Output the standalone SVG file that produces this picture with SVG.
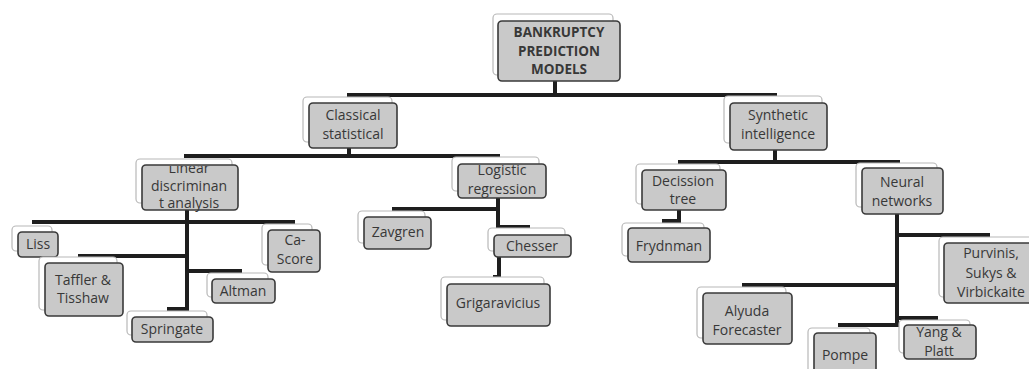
<svg xmlns="http://www.w3.org/2000/svg" width="1029" height="369" viewBox="0 0 1029 369">
<defs>
<style>
.bk{fill:#ffffff;stroke:#b8b8b8;stroke-width:1.2}
.fr{fill:#c9c9c9;stroke:#3a3a3a;stroke-width:1.6}
.t{font-family:"Open Sans","Liberation Sans",sans-serif;font-size:14px;fill:#383838;text-anchor:middle}
.tb{font-family:"Open Sans","Liberation Sans",sans-serif;font-size:13.5px;font-weight:bold;fill:#383838;text-anchor:middle}
.ln{stroke:#1e1e1e;stroke-width:4;fill:none;stroke-linecap:butt}
</style>
<clipPath id="clipLinear"><rect x="142" y="166" width="96" height="46"/></clipPath>
</defs>
<rect width="1029" height="369" fill="#ffffff"/>
<g id="connectors" class="ln">
<path d="M555,81V95M347,95H777"/>
<path d="M349,148V156M184,156H500"/>
<path d="M775,150V162M678,162H900"/>
<path d="M187,210V311M32,222H295M78,256H187M187,271H242M167,309H187"/>
<path d="M498,198V229M392,209H498M498,227H530"/>
<path d="M499,257V279M493,277H501"/>
<path d="M679,210V223M662,221H681"/>
<path d="M897,214V327M897,235H990M742,285H897M897,318H938M838,325H899"/>
</g>
<g id="root"><rect class="bk" x="493" y="14" width="120" height="61" rx="4"/><rect class="fr" x="498" y="21" width="122" height="60" rx="4"/><text class="tb" x="559" y="37">BANKRUPTCY</text><text class="tb" x="559" y="56">PREDICTION</text><text class="tb" x="559" y="74">MODELS</text></g>
<g id="classical"><rect class="bk" x="303" y="97" width="89" height="45" rx="4"/><rect class="fr" x="309" y="103" width="88" height="45" rx="4"/><text class="t" x="353" y="120">Classical</text><text class="t" x="353" y="139">statistical</text></g>
<g id="synthetic"><rect class="bk" x="724" y="96" width="98" height="47" rx="4"/><rect class="fr" x="730" y="103" width="97" height="47" rx="4"/><text class="t" x="778" y="120">Synthetic</text><text class="t" x="778" y="139">intelligence</text></g>
<g id="linear"><rect class="bk" x="136" y="159" width="96" height="44" rx="4"/><rect class="fr" x="142" y="165" width="96" height="45" rx="4"/><g clip-path="url(#clipLinear)"><text class="t" x="189" y="173">Linear</text><text class="t" x="189" y="191">discriminan</text><text class="t" x="189" y="208">t analysis</text></g></g>
<g id="logistic"><rect class="bk" x="452" y="157" width="87" height="34" rx="4"/><rect class="fr" x="458" y="164" width="88" height="34" rx="4"/><text class="t" x="502" y="175">Logistic</text><text class="t" x="502" y="194">regression</text></g>
<g id="liss"><rect class="bk" x="12" y="226" width="40" height="25" rx="4"/><rect class="fr" x="18" y="232" width="40" height="25" rx="4"/><text class="t" x="38" y="249">Liss</text></g>
<g id="cascore"><rect class="bk" x="262" y="224" width="50" height="41" rx="4"/><rect class="fr" x="268" y="230" width="52" height="42" rx="4"/><text class="t" x="295" y="245">Ca-</text><text class="t" x="295" y="264">Score</text></g>
<g id="taffler"><rect class="bk" x="39" y="257" width="78" height="53" rx="4"/><rect class="fr" x="45" y="263" width="78" height="53" rx="4"/><text class="t" x="83" y="285">Taffler &amp;</text><text class="t" x="83" y="303">Tisshaw</text></g>
<g id="altman"><rect class="bk" x="207" y="273" width="61" height="24" rx="4"/><rect class="fr" x="212" y="279" width="63" height="24" rx="4"/><text class="t" x="243" y="296">Altman</text></g>
<g id="springate"><rect class="bk" x="127" y="311" width="80" height="24" rx="4"/><rect class="fr" x="132" y="317" width="81" height="25" rx="4"/><text class="t" x="172" y="334">Springate</text></g>
<g id="zavgren"><rect class="bk" x="358" y="211" width="67" height="32" rx="4"/><rect class="fr" x="364" y="217" width="67" height="32" rx="4"/><text class="t" x="398" y="237">Zavgren</text></g>
<g id="chesser"><rect class="bk" x="488" y="228" width="77" height="23" rx="4"/><rect class="fr" x="494" y="235" width="77" height="22" rx="4"/><text class="t" x="532" y="251">Chesser</text></g>
<g id="grigaravicius"><rect class="bk" x="441" y="277" width="103" height="43" rx="4"/><rect class="fr" x="447" y="284" width="103" height="42" rx="4"/><text class="t" x="498" y="308">Grigaravicius</text></g>
<g id="decission"><rect class="bk" x="636" y="164" width="84" height="40" rx="4"/><rect class="fr" x="642" y="170" width="84" height="40" rx="4"/><text class="t" x="683" y="186">Decission</text><text class="t" x="683" y="204">tree</text></g>
<g id="frydnman"><rect class="bk" x="622" y="223" width="82" height="33" rx="4"/><rect class="fr" x="628" y="228" width="82" height="34" rx="4"/><text class="t" x="669" y="251">Frydnman</text></g>
<g id="neural"><rect class="bk" x="856" y="163" width="81" height="44" rx="4"/><rect class="fr" x="862" y="168" width="81" height="46" rx="4"/><text class="t" x="902" y="187">Neural</text><text class="t" x="902" y="206">networks</text></g>
<g id="purvinis"><rect class="bk" x="939" y="237" width="95" height="60" rx="4"/><rect class="fr" x="944" y="243" width="95" height="60" rx="4"/><text class="t" x="991" y="258">Purvinis,</text><text class="t" x="991" y="278">Sukys &amp;</text><text class="t" x="991" y="297">Virbickaite</text></g>
<g id="alyuda"><rect class="bk" x="697" y="287" width="89" height="51" rx="4"/><rect class="fr" x="703" y="293" width="89" height="51" rx="4"/><text class="t" x="747" y="316">Alyuda</text><text class="t" x="747" y="335">Forecaster</text></g>
<g id="yang"><rect class="bk" x="899" y="320" width="71" height="33" rx="4"/><rect class="fr" x="904" y="325" width="72" height="34" rx="4"/><text class="t" x="939" y="337">Yang &amp;</text><text class="t" x="939" y="356">Platt</text></g>
<g id="pompe"><rect class="bk" x="808" y="328" width="62" height="45" rx="4"/><rect class="fr" x="814" y="333" width="62" height="45" rx="4"/><text class="t" x="845" y="360">Pompe</text></g>
</svg>
